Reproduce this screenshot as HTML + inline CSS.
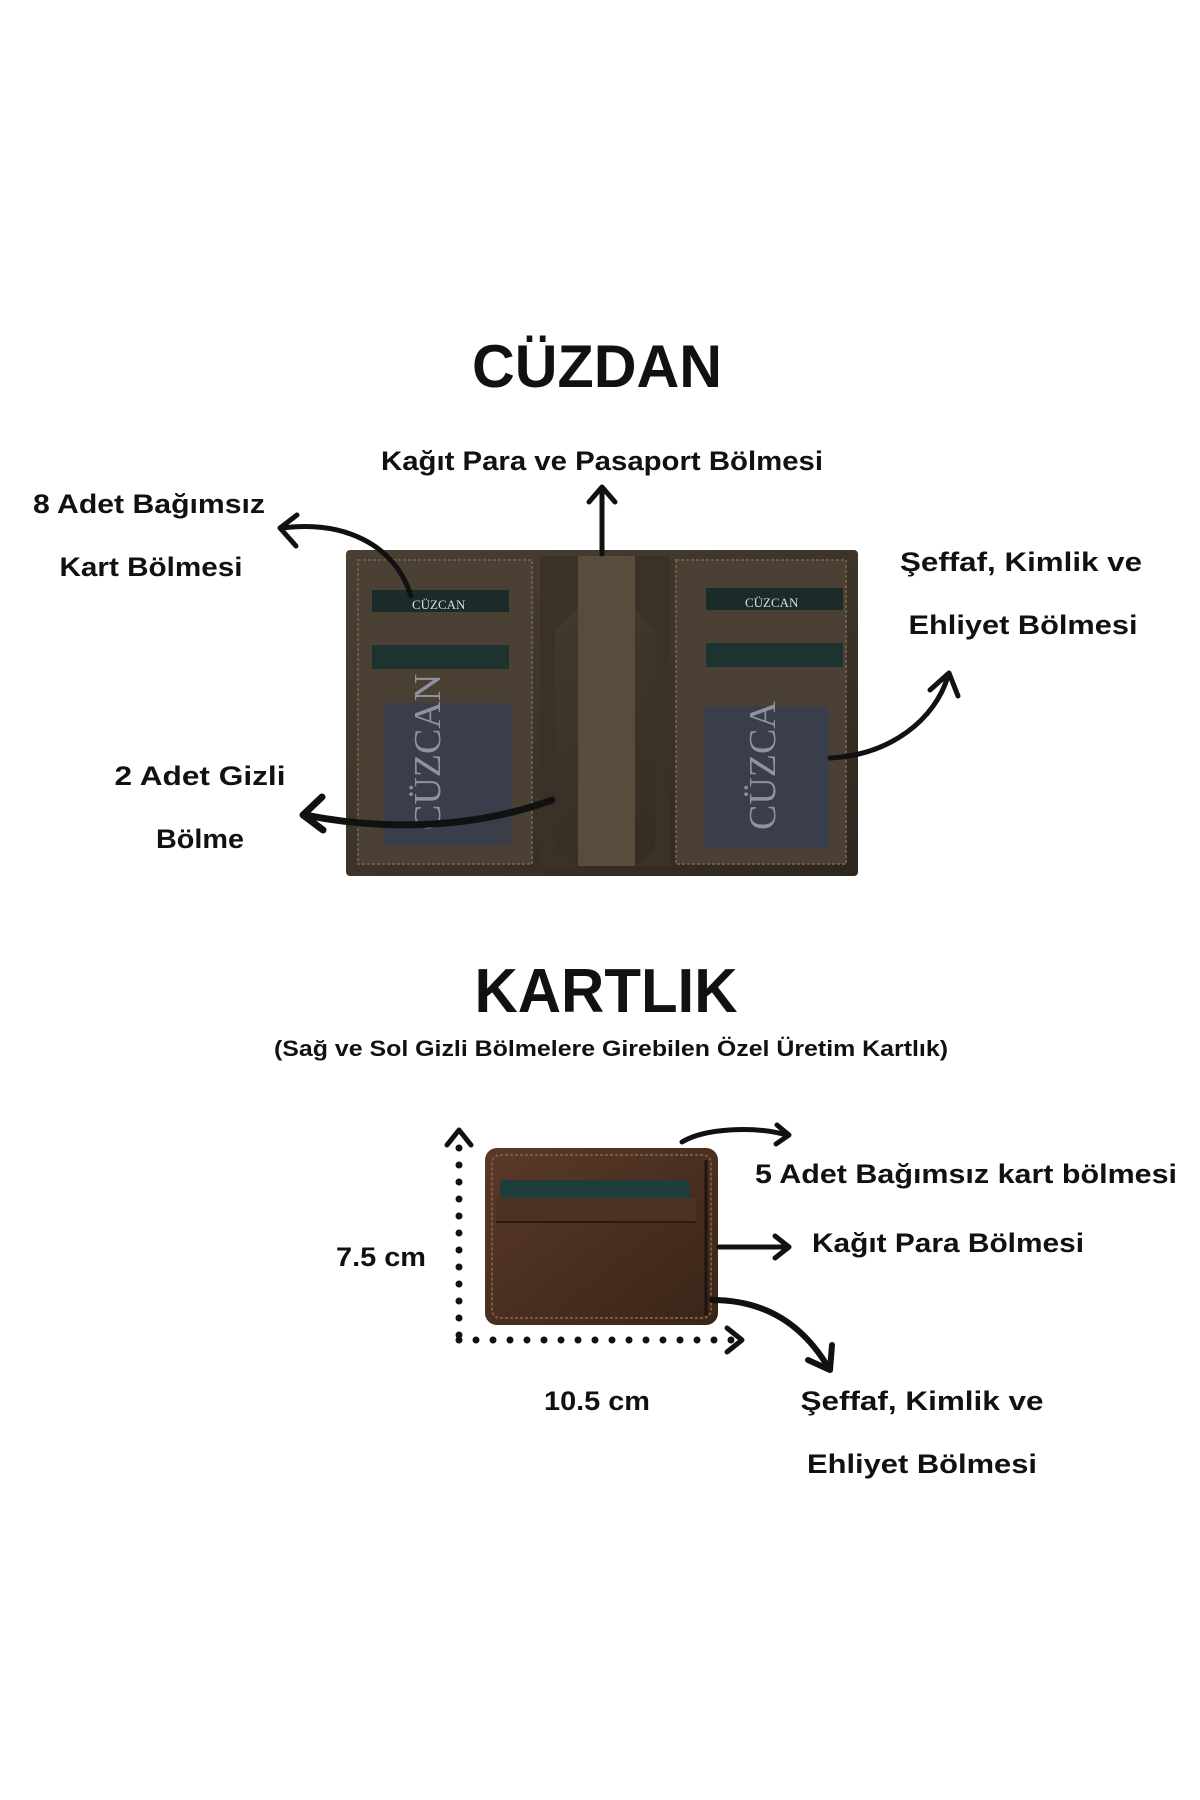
<!DOCTYPE html>
<html><head><meta charset="utf-8"><style>
html,body{margin:0;padding:0;background:#fff;}
svg{display:block;}
text{font-family:"Liberation Sans",sans-serif;font-weight:bold;fill:#111;}
</style></head><body>
<svg width="1200" height="1800" viewBox="0 0 1200 1800" xmlns="http://www.w3.org/2000/svg">
<defs>
<linearGradient id="lea" x1="0" y1="0" x2="1" y2="1">
<stop offset="0" stop-color="#4a3f33"/><stop offset="0.5" stop-color="#3d3429"/><stop offset="1" stop-color="#2e271f"/>
</linearGradient>
<linearGradient id="br" x1="0" y1="0" x2="1" y2="1">
<stop offset="0" stop-color="#5a3a28"/><stop offset="1" stop-color="#3a2418"/>
</linearGradient>
</defs>

<text x="597" y="387" font-size="60" text-anchor="middle" textLength="250" lengthAdjust="spacingAndGlyphs">CÜZDAN</text>
<text x="602" y="470" font-size="27" text-anchor="middle" textLength="442" lengthAdjust="spacingAndGlyphs">Kağıt Para ve Pasaport Bölmesi</text>
<text x="149" y="513" font-size="27" text-anchor="middle" textLength="232" lengthAdjust="spacingAndGlyphs">8 Adet Bağımsız</text>
<text x="151" y="576" font-size="27" text-anchor="middle" textLength="183" lengthAdjust="spacingAndGlyphs">Kart Bölmesi</text>
<text x="1021" y="571" font-size="27" text-anchor="middle" textLength="242" lengthAdjust="spacingAndGlyphs">Şeffaf, Kimlik ve</text>
<text x="1023" y="634" font-size="27" text-anchor="middle" textLength="229" lengthAdjust="spacingAndGlyphs">Ehliyet Bölmesi</text>
<text x="200" y="785" font-size="27" text-anchor="middle" textLength="171" lengthAdjust="spacingAndGlyphs">2 Adet Gizli</text>
<text x="200" y="848" font-size="27" text-anchor="middle" textLength="88" lengthAdjust="spacingAndGlyphs">Bölme</text>

<!-- wallet -->
<rect x="346" y="550" width="512" height="326" fill="url(#lea)" rx="4"/>
<rect x="358" y="560" width="174" height="304" fill="#4b4034" stroke="#6b5c48" stroke-width="2" stroke-dasharray="3 2"/>
<rect x="676" y="560" width="170" height="304" fill="#4b4034" stroke="#6b5c48" stroke-width="2" stroke-dasharray="3 2"/>
<path d="M540 556 L578 556 L578 608 L555 630 L555 850 L578 866 L540 866 Z" fill="#3a3128"/>
<path d="M670 556 L635 556 L635 608 L655 630 L655 850 L635 866 L670 866 Z" fill="#3a3128"/>
<rect x="578" y="556" width="57" height="310" fill="#5a4c3c"/>
<rect x="372" y="590" width="137" height="22" fill="#1a2b2a"/>
<text x="412" y="609" font-size="13" style="font-family:'Liberation Serif',serif;fill:#ddd;font-weight:normal">CÜZCAN</text>
<rect x="372" y="645" width="137" height="24" fill="#1c3330"/>
<rect x="384" y="703" width="127" height="142" fill="#3a3d4a"/>
<text x="440" y="830" font-size="38" transform="rotate(-90 440 830)" style="font-family:'Liberation Serif',serif;fill:#8f93a0;font-weight:normal">CÜZCAN</text>
<rect x="706" y="588" width="137" height="22" fill="#1a2b2a"/>
<text x="745" y="607" font-size="13" style="font-family:'Liberation Serif',serif;fill:#ddd;font-weight:normal">CÜZCAN</text>
<rect x="706" y="643" width="137" height="24" fill="#1c3330"/>
<rect x="704" y="706" width="125" height="142" fill="#3a3d4a"/>
<text x="775" y="830" font-size="38" transform="rotate(-90 775 830)" style="font-family:'Liberation Serif',serif;fill:#8f93a0;font-weight:normal">CÜZCA</text>

<!-- wallet arrows -->
<g fill="none" stroke="#111" stroke-width="5" stroke-linecap="round" stroke-linejoin="round">
<path d="M602 554 L602 488"/><path d="M589 502 L602 487 L615 502"/>
<path d="M411 596 C395 545 345 520 282 528"/><path d="M297 515 L280 528 L296 546"/>
<path d="M830 758 C890 755 935 720 948 676"/><path d="M930 690 L949 673 L958 696"/>
<path d="M552 800 C470 830 380 830 305 815" stroke-width="7"/><path d="M322 797 L303 815 L323 830" stroke-width="7"/>
</g>

<text x="606" y="1012" font-size="62" text-anchor="middle" textLength="263" lengthAdjust="spacingAndGlyphs">KARTLIK</text>
<text x="611" y="1056" font-size="22" text-anchor="middle" textLength="674" lengthAdjust="spacingAndGlyphs">(Sağ ve Sol Gizli Bölmelere Girebilen Özel Üretim Kartlık)</text>

<!-- card holder -->
<rect x="485" y="1148" width="233" height="177" rx="12" fill="url(#br)"/>
<rect x="492" y="1155" width="219" height="163" rx="8" fill="none" stroke="#7a5a44" stroke-width="2" stroke-dasharray="3 2"/>
<rect x="500" y="1180" width="190" height="25" rx="3" fill="#1f3d3c"/>
<rect x="496" y="1198" width="200" height="24" fill="#4d3122"/>
<line x1="496" y1="1222" x2="696" y2="1222" stroke="#2a1a10" stroke-width="2"/>
<line x1="706" y1="1160" x2="706" y2="1315" stroke="#1f1410" stroke-width="3"/>

<g fill="none" stroke="#111" stroke-width="7" stroke-linecap="round" stroke-dasharray="0 17">
<path d="M459 1335 L459 1138"/><path d="M459 1340 L735 1340"/>
</g>
<g fill="none" stroke="#111" stroke-width="5" stroke-linecap="round" stroke-linejoin="round">
<path d="M447 1145 L459 1130 L471 1145"/><path d="M727 1328 L742 1340 L727 1352"/>
<path d="M682 1142 C705 1128 755 1126 787 1135"/><path d="M777 1125 L789 1135 L776 1144"/>
<path d="M719 1247 L787 1247"/><path d="M775 1236 L789 1247 L775 1258"/>
<path d="M712 1300 C760 1300 800 1320 828 1367" stroke-width="6"/><path d="M808 1360 L830 1370 L832 1345" stroke-width="6"/>
</g>

<text x="381" y="1266" font-size="27" text-anchor="middle" textLength="90" lengthAdjust="spacingAndGlyphs">7.5 cm</text>
<text x="597" y="1410" font-size="27" text-anchor="middle" textLength="106" lengthAdjust="spacingAndGlyphs">10.5 cm</text>
<text x="966" y="1183" font-size="27" text-anchor="middle" textLength="422" lengthAdjust="spacingAndGlyphs">5 Adet Bağımsız kart bölmesi</text>
<text x="948" y="1252" font-size="27" text-anchor="middle" textLength="272" lengthAdjust="spacingAndGlyphs">Kağıt Para Bölmesi</text>
<text x="922" y="1410" font-size="27" text-anchor="middle" textLength="243" lengthAdjust="spacingAndGlyphs">Şeffaf, Kimlik ve</text>
<text x="922" y="1473" font-size="27" text-anchor="middle" textLength="230" lengthAdjust="spacingAndGlyphs">Ehliyet Bölmesi</text>
</svg>
</body></html>
